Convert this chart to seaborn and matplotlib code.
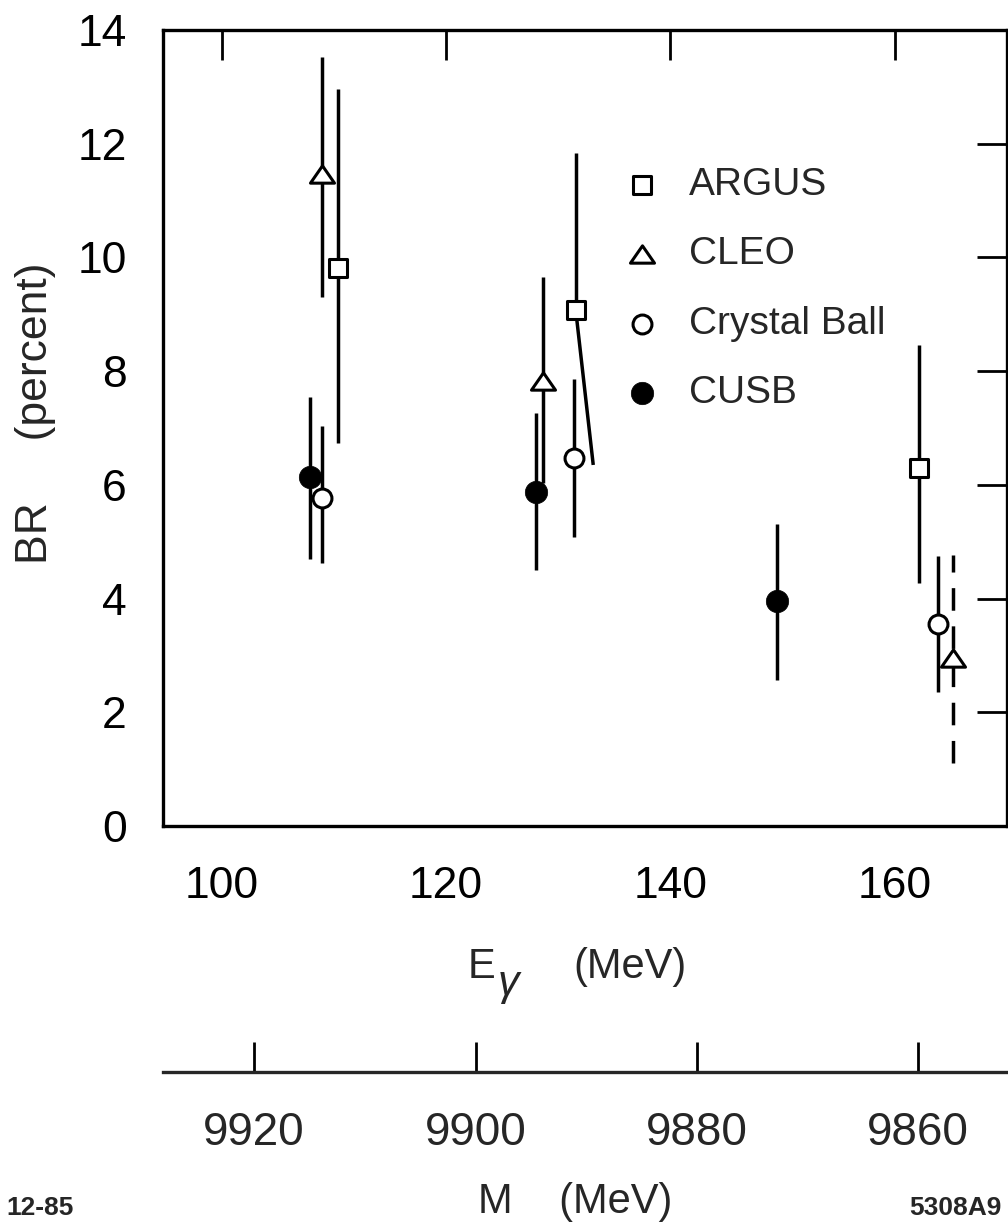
import numpy as np
import matplotlib
matplotlib.use("Agg")
import matplotlib.pyplot as plt
from matplotlib.path import Path
import seaborn as sns

# Photon energy E_gamma (MeV), branching ratio BR (%) and error-bar ends
argus_e = [110.35, 131.57, 162.18]
argus_br = [9.81, 9.07, 6.30]
argus_hi = [12.97, 11.83, 8.46]
argus_lo = [6.73, 6.35, 4.27]
argus_lo_e = [110.35, 133.13, 162.18]   # lower bar end; the middle one is drawn slanted

cleo_e = [108.92, 128.68, 165.23]
cleo_br = [11.47, 7.83, 2.95]
cleo_hi = [13.53, 9.66, 4.77]
cleo_lo = [9.31, 6.03, 1.10]
cleo_dashed = [False, False, True]

cb_e = [108.97, 131.41, 163.90]
cb_br = [5.77, 6.48, 3.55]
cb_hi = [7.04, 7.87, 4.74]
cb_lo = [4.62, 5.09, 2.36]

cusb_e = [107.90, 128.00, 149.49]
cusb_br = [6.13, 5.88, 3.95]
cusb_hi = [7.55, 7.27, 5.32]
cusb_lo = [4.69, 4.50, 2.57]

e_ticks = [100, 120, 140, 160]
br_ticks = [0, 2, 4, 6, 8, 10, 12, 14]
mass_ticks = [9920, 9900, 9880, 9860]
M_PARENT = 10023.4  # parent state mass (MeV)

sns.set_style("white")
plt.rcParams["font.family"] = ["Liberation Sans", "DejaVu Sans"]

W, H = 1008, 1224
fig = plt.figure(figsize=(W / 100, H / 100), dpi=100)
L, R, T, B = 163, 1007, 30, 826
ax = fig.add_axes([L / W, 1 - B / H, (R - L) / W, (B - T) / H])


def ax_x(px):
    return (px - L) / (R - L)


def ax_y(py):
    return (B - py) / (B - T)


LW = 2.5
ax.set_xlim(94.77, 170.02)
ax.set_ylim(0, 14)

# error bars
ax.vlines(argus_e, argus_br, argus_hi, color="black", lw=LW, zorder=2)
for x, y, xl, yl in zip(argus_e, argus_br, argus_lo_e, argus_lo):
    ax.plot([x, xl], [y, yl], color="black", lw=LW, zorder=2, solid_capstyle="butt")
cleo_ls = [(0, (6.5, 4.5)) if d else "solid" for d in cleo_dashed]
ax.vlines(cleo_e, cleo_lo, cleo_hi, color="black", lw=LW, linestyles=cleo_ls, zorder=2)
ax.vlines(cb_e, cb_lo, cb_hi, color="black", lw=LW, zorder=2)
ax.vlines(cusb_e, cusb_lo, cusb_hi, color="black", lw=LW, zorder=2)

# markers
tri = Path([(0, 0.72), (-1, -0.72), (1, -0.72), (0, 0.72)],
           [Path.MOVETO, Path.LINETO, Path.LINETO, Path.CLOSEPOLY])
EW = 2.2
sns.scatterplot(x=argus_e, y=argus_br, marker="s", s=165, color="white",
                edgecolor="black", linewidth=EW, zorder=3, label="ARGUS", ax=ax)
sns.scatterplot(x=cleo_e, y=cleo_br, marker=tri, s=300, color="white",
                edgecolor="black", linewidth=EW, zorder=3, label="CLEO", ax=ax)
sns.scatterplot(x=cb_e, y=cb_br, marker="o", s=185, color="white",
                edgecolor="black", linewidth=EW, zorder=3, label="Crystal Ball", ax=ax)
sns.scatterplot(x=cusb_e, y=cusb_br, marker="o", s=260, color="black",
                edgecolor="black", linewidth=0.5, zorder=3, label="CUSB", ax=ax)

ax.legend(loc="upper left", bbox_to_anchor=(0.5446, ax_y(167)), frameon=False,
          fontsize=28, scatterpoints=1, handlelength=1.0, handletextpad=0.7,
          labelspacing=0.86, borderpad=0, borderaxespad=0)

# axes styling
for sp in ax.spines.values():
    sp.set_visible(True)
    sp.set_linewidth(2.4)
    sp.set_color("black")
ax.set_xticks(e_ticks)
ax.set_yticks(br_ticks)
ax.set_xticklabels([str(v) for v in e_ticks])
ax.set_yticklabels([str(v) for v in br_ticks])
ax.tick_params(axis="both", direction="in", length=21.6, width=2.0, color="black",
               top=True, right=True, labelsize=32, labelcolor="black")
ax.tick_params(axis="x", pad=29)
ax.tick_params(axis="y", pad=26)
for t in ax.yaxis.get_major_ticks():
    if t.get_loc() in (0, 14):
        t.tick1line.set_visible(False)
        t.tick2line.set_visible(False)

# energy axis title: E with an italic gamma subscript
ax.text(ax_x(468), ax_y(978), "E", fontsize=30, ha="left", va="baseline",
        transform=ax.transAxes)
ax.text(ax_x(498), ax_y(995), "\u03b3", fontsize=31, fontstyle="italic",
        ha="left", va="baseline", transform=ax.transAxes)
ax.text(ax_x(573), ax_y(978), "(MeV)", fontsize=30, ha="left", va="baseline",
        transform=ax.transAxes)

ax.set_ylabel("BR     (percent)", fontsize=32)
ax.yaxis.set_label_coords(ax_x(56), ax_y(413))


# mass scale below the energy axis
def e_to_m(e):
    e = np.asarray(e, dtype=float)
    return np.sqrt(np.clip(M_PARENT ** 2 - 2 * M_PARENT * e, 1.0, None))


def m_to_e(m):
    m = np.asarray(m, dtype=float)
    return (M_PARENT ** 2 - m ** 2) / (2 * M_PARENT)


sec = ax.secondary_xaxis(ax_y(1072), functions=(e_to_m, m_to_e))
sec.set_xticks(mass_ticks)
sec.set_xticklabels([str(v) for v in mass_ticks])
sec.tick_params(direction="in", length=21.6, width=2.0, pad=28, labelsize=33, color="black")
sec.spines["bottom"].set_linewidth(2.4)
for name in ("top", "left", "right"):
    sec.spines[name].set_visible(False)

ax.text(ax_x(575), ax_y(1213), "M    (MeV)", fontsize=30,
        ha="center", va="baseline", transform=ax.transAxes)

fig.text(6 / W, 1 - 1215 / H, "12-85", fontsize=19, fontweight="bold",
         ha="left", va="baseline")
fig.text(909 / W, 1 - 1215 / H, "5308A9", fontsize=19, fontweight="bold",
         ha="left", va="baseline")

fig.savefig("out.png", dpi=100, facecolor="white")
